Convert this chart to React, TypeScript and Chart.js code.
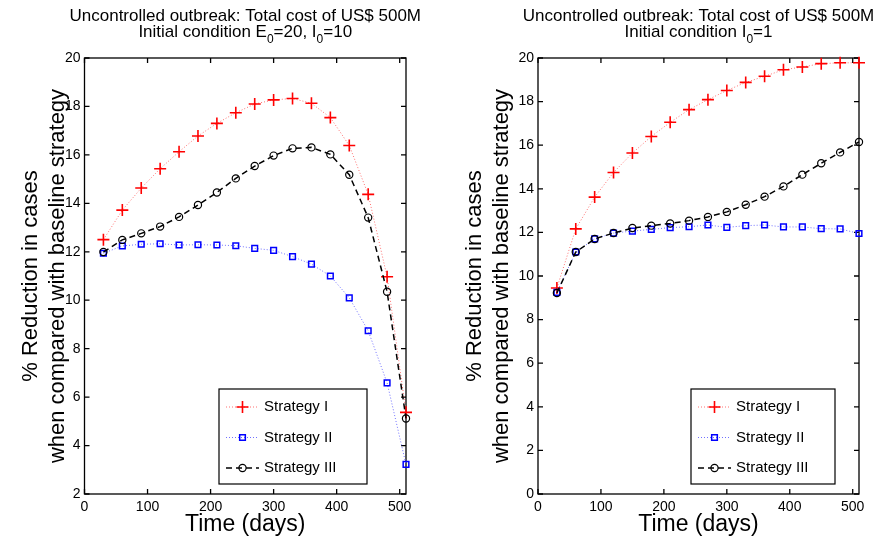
import { useEffect, useRef } from 'react';
import { Chart, registerables } from 'chart.js';

Chart.register(...registerables);

// ---- data ----
const days = [30, 60, 90, 120, 150, 180, 210, 240, 270, 300, 330, 360, 390, 420, 450, 480, 510];

const leftStrategyI = [12.5, 13.72, 14.63, 15.43, 16.13, 16.78, 17.3, 17.74, 18.1, 18.27, 18.33, 18.13, 17.54, 16.39, 14.37, 10.97, 5.37];
const leftStrategyII = [11.94, 12.24, 12.31, 12.33, 12.28, 12.29, 12.28, 12.25, 12.14, 12.06, 11.8, 11.49, 11.0, 10.1, 8.74, 6.59, 3.22];
const leftStrategyIII = [11.99, 12.49, 12.76, 13.04, 13.44, 13.93, 14.45, 15.03, 15.54, 15.97, 16.27, 16.31, 16.02, 15.18, 13.41, 10.35, 5.12];

const rightStrategyI = [9.45, 12.16, 13.62, 14.75, 15.64, 16.4, 17.05, 17.63, 18.09, 18.51, 18.88, 19.16, 19.46, 19.59, 19.74, 19.78, 19.78];
const rightStrategyII = [9.25, 11.1, 11.7, 11.97, 12.06, 12.14, 12.22, 12.26, 12.34, 12.23, 12.31, 12.34, 12.25, 12.25, 12.17, 12.16, 11.95];
const rightStrategyIII = [9.22, 11.1, 11.7, 11.97, 12.2, 12.31, 12.41, 12.54, 12.71, 12.94, 13.27, 13.64, 14.11, 14.65, 15.17, 15.67, 16.15];

const xTicks = [0, 100, 200, 300, 400, 500];
const leftYTicks = [2, 4, 6, 8, 10, 12, 14, 16, 18, 20];
const rightYTicks = [0, 2, 4, 6, 8, 10, 12, 14, 16, 18, 20];

const seriesLabels = ['Strategy I', 'Strategy II', 'Strategy III'];
const titleLine1 = 'Uncontrolled outbreak: Total cost of US$ 500M';
const leftTitleLine2 = [
  { t: 'Initial condition E' }, { t: '0', sub: true }, { t: '=20, I' }, { t: '0', sub: true }, { t: '=10' },
];
const rightTitleLine2 = [{ t: 'Initial condition I' }, { t: '0', sub: true }, { t: '=1' }];
const xTitle = 'Time (days)';
const yTitle = ['% Reduction in cases', 'when compared with baseline strategy'];

const FONT = "'Liberation Sans', Arial, Helvetica, sans-serif";

// ---- drawing helpers ----
function drawMarker(ctx: CanvasRenderingContext2D, style: string, x: number, y: number, r: number, color: string, lw: number) {
  ctx.save();
  ctx.strokeStyle = color;
  ctx.lineWidth = lw;
  ctx.setLineDash([]);
  ctx.beginPath();
  if (style === 'cross') {
    ctx.moveTo(x - r, y); ctx.lineTo(x + r, y);
    ctx.moveTo(x, y - r); ctx.lineTo(x, y + r);
  } else if (style === 'rect') {
    const s = r * Math.SQRT1_2;
    ctx.rect(x - s, y - s, 2 * s, 2 * s);
  } else {
    ctx.arc(x, y, r, 0, Math.PI * 2);
  }
  ctx.stroke();
  ctx.restore();
}

const framePlugin = {
  id: 'mlFrame',
  beforeDatasetsDraw(chart: any) {
    const { ctx, chartArea: a, scales } = chart;
    ctx.save();
    ctx.strokeStyle = '#000';
    ctx.lineWidth = 1.3;
    ctx.strokeRect(a.left, a.top, a.right - a.left, a.bottom - a.top);
    const L = 5;
    ctx.beginPath();
    scales.x.ticks.forEach((t: any) => {
      const px = scales.x.getPixelForValue(t.value);
      ctx.moveTo(px, a.bottom); ctx.lineTo(px, a.bottom - L);
      ctx.moveTo(px, a.top); ctx.lineTo(px, a.top + L);
    });
    scales.y.ticks.forEach((t: any) => {
      const py = scales.y.getPixelForValue(t.value);
      ctx.moveTo(a.left, py); ctx.lineTo(a.left + L, py);
      ctx.moveTo(a.right, py); ctx.lineTo(a.right - L, py);
    });
    ctx.stroke();
    ctx.restore();
  },
};

const legendPlugin = {
  id: 'mlLegend',
  afterDatasetsDraw(chart: any) {
    const opts = chart.options.plugins.mlLegend;
    if (!opts) return;
    const { ctx } = chart;
    const { left, top, right, bottom } = opts.box;
    ctx.save();
    ctx.fillStyle = '#fff';
    ctx.fillRect(left, top, right - left, bottom - top);
    ctx.strokeStyle = '#000';
    ctx.lineWidth = 1.2;
    ctx.strokeRect(left, top, right - left, bottom - top);
    const ds = chart.data.datasets;
    const rowsY = [18, 48.5, 79];
    ds.forEach((d: any, i: number) => {
      const y = top + rowsY[i];
      ctx.save();
      ctx.strokeStyle = d.borderColor;
      ctx.lineWidth = d.borderWidth;
      ctx.setLineDash(d.borderDash || []);
      ctx.beginPath();
      ctx.moveTo(left + 7, y);
      ctx.lineTo(left + 40, y);
      ctx.stroke();
      ctx.restore();
      drawMarker(ctx, d.pointStyle, left + 23.5, y, d.pointRadius, d.pointBorderColor, d.pointBorderWidth);
      ctx.fillStyle = '#000';
      ctx.font = `15px ${FONT}`;
      ctx.textBaseline = 'middle';
      ctx.textAlign = 'left';
      ctx.fillText(d.label, left + 45, y);
    });
    ctx.restore();
  },
};

function drawRich(ctx: CanvasRenderingContext2D, segs: { t: string; sub?: boolean }[], cx: number, y: number, size: number) {
  const subSize = Math.round(size * 0.7);
  let total = 0;
  const widths = segs.map((s) => {
    ctx.font = `${s.sub ? subSize : size}px ${FONT}`;
    const w = ctx.measureText(s.t).width;
    total += w;
    return w;
  });
  let x = cx - total / 2;
  segs.forEach((s, i) => {
    ctx.font = `${s.sub ? subSize : size}px ${FONT}`;
    ctx.fillText(s.t, x, s.sub ? y + size * 0.38 : y);
    x += widths[i];
  });
}

const titlePlugin = {
  id: 'mlTitle',
  afterDraw(chart: any) {
    const opts = chart.options.plugins.mlTitle;
    if (!opts) return;
    const { ctx, chartArea: a } = chart;
    const cx = (a.left + a.right) / 2;
    ctx.save();
    ctx.fillStyle = '#000';
    ctx.textBaseline = 'alphabetic';
    ctx.textAlign = 'left';
    drawRich(ctx, [{ t: opts.line1 }], cx, 21, 17);
    drawRich(ctx, opts.line2, cx, 37, 17);
    ctx.restore();
  },
};

function makeDatasets(a: number[], b: number[], c: number[]) {
  const pts = (arr: number[]) => days.map((d, i) => ({ x: d, y: arr[i] }));
  return [
    {
      label: seriesLabels[0], data: pts(a), borderColor: '#ff7070', borderWidth: 1, borderDash: [1, 2],
      pointStyle: 'cross', pointRadius: 6, pointBorderColor: '#ff0000', pointBorderWidth: 1.6,
      pointBackgroundColor: 'transparent', order: 2, clip: false, tension: 0,
    },
    {
      label: seriesLabels[1], data: pts(b), borderColor: '#7070ff', borderWidth: 1, borderDash: [1, 2],
      pointStyle: 'rect', pointRadius: 4, pointBorderColor: '#0000ff', pointBorderWidth: 1.5,
      pointBackgroundColor: 'transparent', order: 1, clip: false, tension: 0,
    },
    {
      label: seriesLabels[2], data: pts(c), borderColor: '#000000', borderWidth: 1.5, borderDash: [6, 4],
      pointStyle: 'circle', pointRadius: 3.6, pointBorderColor: '#000000', pointBorderWidth: 1.2,
      pointBackgroundColor: 'transparent', order: 0, clip: false, tension: 0,
    },
  ];
}

function makeConfig(p: any): any {
  return {
    type: 'line',
    data: { datasets: makeDatasets(p.a, p.b, p.c) },
    plugins: [framePlugin, legendPlugin, titlePlugin],
    options: {
      responsive: false,
      animation: false,
      devicePixelRatio: 1,
      layout: { padding: { top: 58, left: 0, right: p.padRight, bottom: 0 } },
      plugins: {
        legend: { display: false },
        tooltip: { enabled: false },
        title: { display: false },
        mlLegend: { box: p.legendBox },
        mlTitle: { line1: titleLine1, line2: p.line2 },
      },
      scales: {
        x: {
          type: 'linear',
          min: 0,
          max: 510,
          grid: { display: false, drawTicks: false },
          border: { display: false },
          afterBuildTicks: (s: any) => { s.ticks = xTicks.map((v) => ({ value: v })); },
          afterFit: (s: any) => { s.height = 47; },
          ticks: { color: '#000', font: { size: 14, family: FONT }, padding: 5, maxRotation: 0 },
          title: {
            display: true, text: xTitle, color: '#000', font: { size: 23, family: FONT },
            padding: { top: 0, bottom: 3 },
          },
        },
        y: {
          type: 'linear',
          min: p.yMin,
          max: 20,
          grid: { display: false, drawTicks: false },
          border: { display: false },
          afterBuildTicks: (s: any) => { s.ticks = p.yTicks.map((v: number) => ({ value: v })); },
          afterFit: (s: any) => { s.width = p.yWidth; },
          ticks: { color: '#000', font: { size: 14, family: FONT }, padding: 4 },
          title: {
            display: true, text: yTitle, color: '#000', font: { size: 22, family: FONT },
            padding: { top: p.yTitlePad, bottom: 0 },
          },
        },
      },
    },
  };
}

function Panel(props: { cfg: any; left: number; width: number }) {
  const ref = useRef<HTMLCanvasElement | null>(null);
  useEffect(() => {
    if (!ref.current) return;
    const chart = new Chart(ref.current, props.cfg);
    return () => chart.destroy();
  }, []);
  return (
    <canvas
      ref={ref}
      width={props.width}
      height={541}
      style={{ position: 'absolute', left: props.left, top: 0, width: props.width, height: 541 }}
    />
  );
}

export default function App() {
  const leftCfg = makeConfig({
    a: leftStrategyI, b: leftStrategyII, c: leftStrategyIII,
    yMin: 2, yTicks: leftYTicks, yWidth: 84.5, yTitlePad: 18, padRight: 33,
    legendBox: { left: 219, top: 389, right: 367, bottom: 484 },
    line2: leftTitleLine2,
  });
  const rightCfg = makeConfig({
    a: rightStrategyI, b: rightStrategyII, c: rightStrategyIII,
    yMin: 0, yTicks: rightYTicks, yWidth: 99, yTitlePad: 23, padRight: 19,
    legendBox: { left: 252, top: 389, right: 396, bottom: 484 },
    line2: rightTitleLine2,
  });
  return (
    <div style={{ position: 'fixed', left: 0, top: 0, width: 878, height: 541, background: '#fff' }}>
      <Panel cfg={leftCfg} left={0} width={439} />
      <Panel cfg={rightCfg} left={439} width={439} />
    </div>
  );
}
